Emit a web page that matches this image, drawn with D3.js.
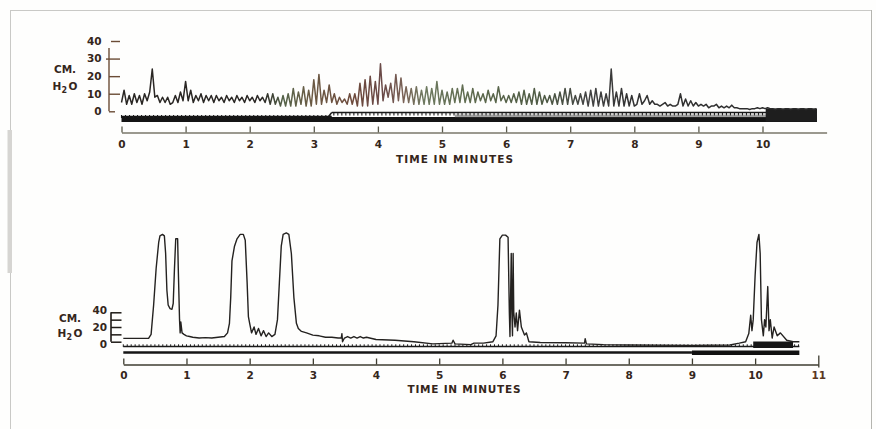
<!DOCTYPE html>
<html><head><meta charset="utf-8">
<script src="https://cdn.jsdelivr.net/npm/d3@7/dist/d3.min.js"></script>
<style>html,body{margin:0;padding:0;background:#fefefd;} svg{display:block}</style>
</head><body>
<script>
// ---------------- DATA ----------------
const upperMinuteTicks = [0,1,2,3,4,5,6,7,8,9,10];
const lowerMinuteTicks = [0,1,2,3,4,5,6,7,8,9,10,11];
const upperPressureTicks = [0,10,20,30,40];
const lowerPressureTicks = [0,10,20,30,40];
const lowerPressureLabels = [0,20,40];
const axisTitle = "TIME IN MINUTES";

const upperSampleStep = 0.04;
const upperPressure = [
  5,12,4,9,4,10,5,9,4,10,6,11,24,8,9,5,8,5,8,4,5,9,5,11,6,
  17,6,12,5,9,6,10,5,9,6,9,5,9,6,8,5,9,6,8,5,9,6,8,5,9,
  6,8,5,9,6,8,5,10,4,10,4,8,3,9,3,10,3,13,3,11,4,14,3,12,3,
  18,4,21,4,12,5,15,5,10,4,8,5,7,4,10,4,10,3,16,3,18,3,20,4,17,
  4,27,6,15,8,16,5,21,6,19,5,14,5,13,4,14,4,12,4,14,4,13,4,17,4,
  12,4,11,4,13,5,13,5,15,5,11,5,13,5,11,6,10,5,12,6,10,5,14,6,9,
  5,9,5,10,5,11,4,12,4,10,4,13,4,11,4,9,5,9,4,10,4,11,4,13,4,
  13,4,9,4,10,4,11,3,12,3,13,3,11,3,10,3,24,3,11,3,13,3,10,3,9,
  3,4,10,4,6,9,4,6,4,4,3,4,5,3,4,3,3,4,10,3,7,3,6,3,5,
  3,4,3,4,2,3,3,4,2,3,2,3,2,3.5,2,2,1.5,1.5,1.5,1.5,1,1.5,1.5,2,1.5,
  2,1.5,2,1.5,1.5,1,1.5,1.5,1,1.5,1.5,1,1.5,1.5,1,1.5,1.5,1,1.5,1.5,1,1.5
];
const upperRecordEnd = 10.85;          // minutes
const upperMarkerShift = 3.28;         // minute where the timer line steps up
const upperEndBlock = [10.05, 10.85];  // minutes

// lower record: [minute, cm H2O]
const lowerPressure = [
  [0,4.5],[0.4,4.5],[0.44,10],[0.48,50],[0.52,100],[0.56,135],[0.58,144],[0.62,146],[0.65,144],
  [0.67,120],[0.69,70],[0.71,50],[0.74,45],[0.77,44],[0.79,52],[0.81,100],[0.83,140],[0.86,140],
  [0.87,100],[0.89,30],[0.9,12],[0.91,27],[0.93,12],[0.96,10],[1.0,8],[1.05,7],[1.1,6],[1.2,5],
  [1.3,5.5],[1.4,5],[1.5,6],[1.6,7],[1.65,12],[1.68,25],[1.7,60],[1.72,110],[1.76,130],[1.8,140],
  [1.85,146],[1.9,146],[1.93,138],[1.96,80],[1.98,34],[2.0,25],[2.03,12],[2.07,20],[2.1,10],
  [2.14,18],[2.18,8],[2.22,15],[2.26,7],[2.3,12],[2.35,7],[2.4,10],[2.44,30],[2.47,80],[2.5,130],
  [2.53,146],[2.58,148],[2.62,146],[2.66,120],[2.7,60],[2.74,25],[2.77,18],[2.82,14],[2.9,12],
  [3.0,9],[3.1,8],[3.2,6],[3.3,6],[3.4,5],[3.45,5],[3.46,11],[3.47,0],[3.5,5],[3.55,7],[3.6,5],
  [3.65,7],[3.7,5],[3.75,7],[3.8,5],[3.85,6],[4.0,3],[4.3,2],[4.6,0],[4.9,-3],[5.2,-2],[5.22,2],
  [5.25,-3],[5.5,-4],[5.55,-2],[5.7,-2],[5.85,0],[5.9,8],[5.93,50],[5.96,140],[6.0,145],[6.05,145],
  [6.09,142],[6.11,40],[6.12,7],[6.13,60],[6.14,120],[6.15,40],[6.16,8],[6.17,120],[6.18,40],
  [6.2,20],[6.22,39],[6.24,15],[6.27,43],[6.3,20],[6.35,9],[6.38,12],[6.42,0],[6.6,-1],[7.0,-1.5],
  [7.3,-2],[7.31,4],[7.33,-3],[7.6,-4],[8.0,-4.5],[9.0,-5],[9.6,-4.5],[9.75,-2],[9.85,0],[9.9,11],
  [9.93,36],[9.95,15],[9.97,30],[10.0,90],[10.03,135],[10.06,146],[10.08,120],[10.1,30],[10.13,8],
  [10.15,30],[10.17,20],[10.2,75],[10.22,15],[10.24,30],[10.27,5],[10.3,20],[10.35,8],[10.4,12],
  [10.5,2],[10.6,0],[10.7,0]
];
const lowerRecordEnd = 10.7;
const lowerHeavyFrom = 9.0;
const lowerEndBlock = [9.97, 10.6];
const timerStep = 1/16;   // timer pips per minute

// ---------------- LAYOUT ----------------
const W = 876, H = 429;
const ink = "#1e1a16", textInk = "#35261b";
const font = "'DejaVu Sans', 'Liberation Sans', sans-serif";
const fs = 10.5;

const svg = d3.select("body").append("svg").attr("width", W).attr("height", H);
svg.append("rect").attr("width", W).attr("height", H).attr("fill", "#fefefd");

// frame of the scanned page
const frame = svg.append("g").attr("stroke", "#c9c9c6").attr("fill", "none");
frame.append("line").attr("x1", 10).attr("x2", 872).attr("y1", 10.5).attr("y2", 10.5);
frame.append("line").attr("x1", 10.5).attr("x2", 10.5).attr("y1", 10).attr("y2", 429);
frame.append("line").attr("x1", 871.5).attr("x2", 871.5).attr("y1", 10).attr("y2", 429).attr("stroke", "#b5b5b0");
svg.append("rect").attr("x", 7.5).attr("y", 130).attr("width", 4.5).attr("height", 143).attr("fill", "#d6d5d2");

const defs = svg.append("defs");

// ---------- UPPER PANEL ----------
const xU = d3.scaleLinear().domain([0, 11]).range([121.5, 826.6]);
const yU = d3.scaleLinear().domain([0, 40]).range([111.3, 41]);

const gradU = defs.append("linearGradient").attr("id", "gU").attr("gradientUnits", "userSpaceOnUse")
  .attr("x1", xU(0)).attr("x2", xU(11)).attr("y1", 0).attr("y2", 0);
[[0,"#2a2724"],[0.2,"#2a2724"],[0.23,"#56644a"],[0.27,"#6b5a44"],[0.33,"#6e4a3c"],[0.37,"#6a4a48"],
 [0.4,"#7a6256"],[0.43,"#6e7a60"],[0.5,"#5e6a4e"],[0.6,"#4e5a44"],[0.66,"#444"],[0.72,"#333"],[1,"#2a2a2a"]]
  .forEach(([o,c]) => gradU.append("stop").attr("offset", o).attr("stop-color", c));

function styleText(sel) {
  return sel.attr("font-family", font).attr("font-weight", 700).attr("font-size", fs).attr("fill", textInk);
}

// y axis (upper)
const yAxU = svg.append("g").attr("transform", `translate(109,0)`)
  .call(d3.axisLeft(yU).tickValues(upperPressureTicks).tickSizeInner(-11).tickSizeOuter(0).tickPadding(7.5));
yAxU.select(".domain").remove();
yAxU.selectAll(".tick line").attr("stroke", "#6b4c36").attr("stroke-width", 1.4)
  .attr("x1", d => d === 40 ? 2 : (d === 30 ? -3 : 0)).attr("x2", d => d === 0 ? 6 : 11);
styleText(yAxU.selectAll(".tick text"));
svg.append("line").attr("x1", 109).attr("x2", 109).attr("y1", yU(0)).attr("y2", yU(36))
  .attr("stroke", "#6b4c36").attr("stroke-width", 1.4);

// unit labels
function unitLabel(cx, y1, y2) {
  styleText(svg.append("text").attr("x", cx).attr("y", y1).attr("text-anchor", "middle")).text("CM.");
  const t = styleText(svg.append("text").attr("x", cx).attr("y", y2).attr("text-anchor", "middle"));
  t.append("tspan").text("H");
  t.append("tspan").attr("font-size", 8).attr("dy", 3).text("2");
  t.append("tspan").attr("dy", -3).attr("dx", 1.5).text("O");
}
unitLabel(65, 72.5, 90);

// timer channel (upper)
const tmU = svg.append("g");
tmU.append("line").attr("x1", xU(0)).attr("x2", xU(upperRecordEnd)).attr("y1", 119.5).attr("y2", 119.5)
  .attr("stroke", "#141414").attr("stroke-width", 5);
tmU.append("line").attr("x1", xU(0)).attr("x2", xU(upperMarkerShift)).attr("y1", 116.5).attr("y2", 116.5)
  .attr("stroke", "#141414").attr("stroke-width", 1.5);
tmU.append("line").attr("x1", xU(upperMarkerShift)).attr("x2", xU(upperRecordEnd)).attr("y1", 112.5).attr("y2", 112.5)
  .attr("stroke", "#1a1a1a").attr("stroke-width", 1.6);
tmU.append("line").attr("x1", xU(upperMarkerShift - 0.05)).attr("x2", xU(upperMarkerShift)).attr("y1", 116.5).attr("y2", 112.5)
  .attr("stroke", "#1a1a1a").attr("stroke-width", 1.5);
tmU.selectAll("line.pip").data(d3.range(0, upperRecordEnd, timerStep)).join("line").attr("class", "pip")
  .attr("x1", d => xU(d)).attr("x2", d => xU(d))
  .attr("y1", d => d < upperMarkerShift ? 115 : 112)
  .attr("y2", d => d < upperMarkerShift ? 118 : 115.5)
  .attr("stroke", "#1a1a1a").attr("stroke-width", 1.1);
tmU.append("rect").attr("x", xU(5.2)).attr("width", xU(upperRecordEnd) - xU(5.2))
  .attr("y", 114.5).attr("height", 3).attr("fill", "#555").attr("opacity", 0.55);
tmU.append("rect").attr("x", xU(upperEndBlock[0])).attr("width", xU(upperEndBlock[1]) - xU(upperEndBlock[0]))
  .attr("y", 108.5).attr("height", 13).attr("fill", "#1e1e1e");

// pressure trace (upper)
const lineU = d3.line().x((d, i) => xU(i * upperSampleStep)).y(d => yU(d));
svg.append("path").datum(upperPressure).attr("d", lineU).attr("fill", "none")
  .attr("stroke", "url(#gU)").attr("stroke-width", 1.5).attr("stroke-linejoin", "round");

// x axis (upper)
const xAxU = svg.append("g").attr("transform", "translate(0,132.5)")
  .call(d3.axisBottom(xU).tickValues(upperMinuteTicks).tickSizeInner(-6).tickSizeOuter(0).tickPadding(7.7));
xAxU.select(".domain").attr("stroke", "#7a776a").attr("stroke-width", 1.3);
xAxU.selectAll(".tick line").attr("stroke", "#5b5a4c").attr("stroke-width", 1.3);
styleText(xAxU.selectAll(".tick text"));
styleText(svg.append("text").attr("x", 454.5).attr("y", 162.7).attr("text-anchor", "middle"))
  .attr("textLength", 117).attr("lengthAdjust", "spacing").text(axisTitle);

// ---------- LOWER PANEL ----------
const xL = d3.scaleLinear().domain([0, 11]).range([123.3, 818.3]);
const yL = d3.scaleLinear().domain([0, 40]).range([341.7, 312.3]);

const yAxL = svg.append("g").attr("transform", "translate(111,0)")
  .call(d3.axisLeft(yL).tickValues(lowerPressureTicks).tickSizeInner(-10.5).tickSizeOuter(0).tickPadding(4)
    .tickFormat(d => lowerPressureLabels.includes(d) ? d : ""));
yAxL.select(".domain").attr("stroke", ink).attr("stroke-width", 1.6).attr("d", `M0,${yL(0)}V${yL(40)}`);
yAxL.selectAll(".tick line").attr("stroke", ink).attr("stroke-width", 1.5);
styleText(yAxL.selectAll(".tick text"))
  .attr("dy", d => d === 40 ? "0.1em" : (d === 0 ? "0.55em" : "0.32em"));
unitLabel(70, 321.7, 337);

// timer channel (lower)
const tmL = svg.append("g");
tmL.append("line").attr("x1", xL(0)).attr("x2", xL(lowerRecordEnd)).attr("y1", 346.5).attr("y2", 346.5)
  .attr("stroke", "#1a1a1a").attr("stroke-width", 1.5);
tmL.selectAll("line.pip").data(d3.range(0, lowerRecordEnd, timerStep)).join("line").attr("class", "pip")
  .attr("x1", d => xL(d)).attr("x2", d => xL(d)).attr("y1", 344.3).attr("y2", 347)
  .attr("stroke", "#1a1a1a").attr("stroke-width", 1);
tmL.append("line").attr("x1", xL(0)).attr("x2", xL(lowerHeavyFrom)).attr("y1", 352.5).attr("y2", 352.5)
  .attr("stroke", "#161616").attr("stroke-width", 2.6);
tmL.append("line").attr("x1", xL(lowerHeavyFrom)).attr("x2", xL(lowerRecordEnd)).attr("y1", 352.8).attr("y2", 352.8)
  .attr("stroke", "#111").attr("stroke-width", 4.6);
tmL.append("rect").attr("x", xL(lowerEndBlock[0])).attr("width", xL(lowerEndBlock[1]) - xL(lowerEndBlock[0]))
  .attr("y", 341.5).attr("height", 6.5).attr("fill", "#161616");

// pressure trace (lower)
const lineL = d3.line().x(d => xL(d[0])).y(d => yL(d[1]));
svg.append("path").datum(lowerPressure).attr("d", lineL).attr("fill", "none")
  .attr("stroke", "#242220").attr("stroke-width", 1.4).attr("stroke-linejoin", "round");

// x axis (lower)
const xAxL = svg.append("g").attr("transform", "translate(0,364.5)")
  .call(d3.axisBottom(xL).tickValues(lowerMinuteTicks).tickSizeInner(-6).tickSizeOuter(0).tickPadding(7.2));
xAxL.select(".domain").attr("stroke", "#3e3d30").attr("stroke-width", 1.4);
xAxL.selectAll(".tick line").attr("stroke", "#3e3d30").attr("stroke-width", 1.3)
  .attr("y1", d => d === 11 ? 3 : 0).attr("y2", d => d === 11 ? -9 : -6);
styleText(xAxL.selectAll(".tick text")).attr("fill", d => d === 11 ? "#5a3622" : textInk);
styleText(svg.append("text").attr("x", 464).attr("y", 393).attr("text-anchor", "middle"))
  .attr("textLength", 113).attr("lengthAdjust", "spacing").text(axisTitle);
</script>
</body></html>
